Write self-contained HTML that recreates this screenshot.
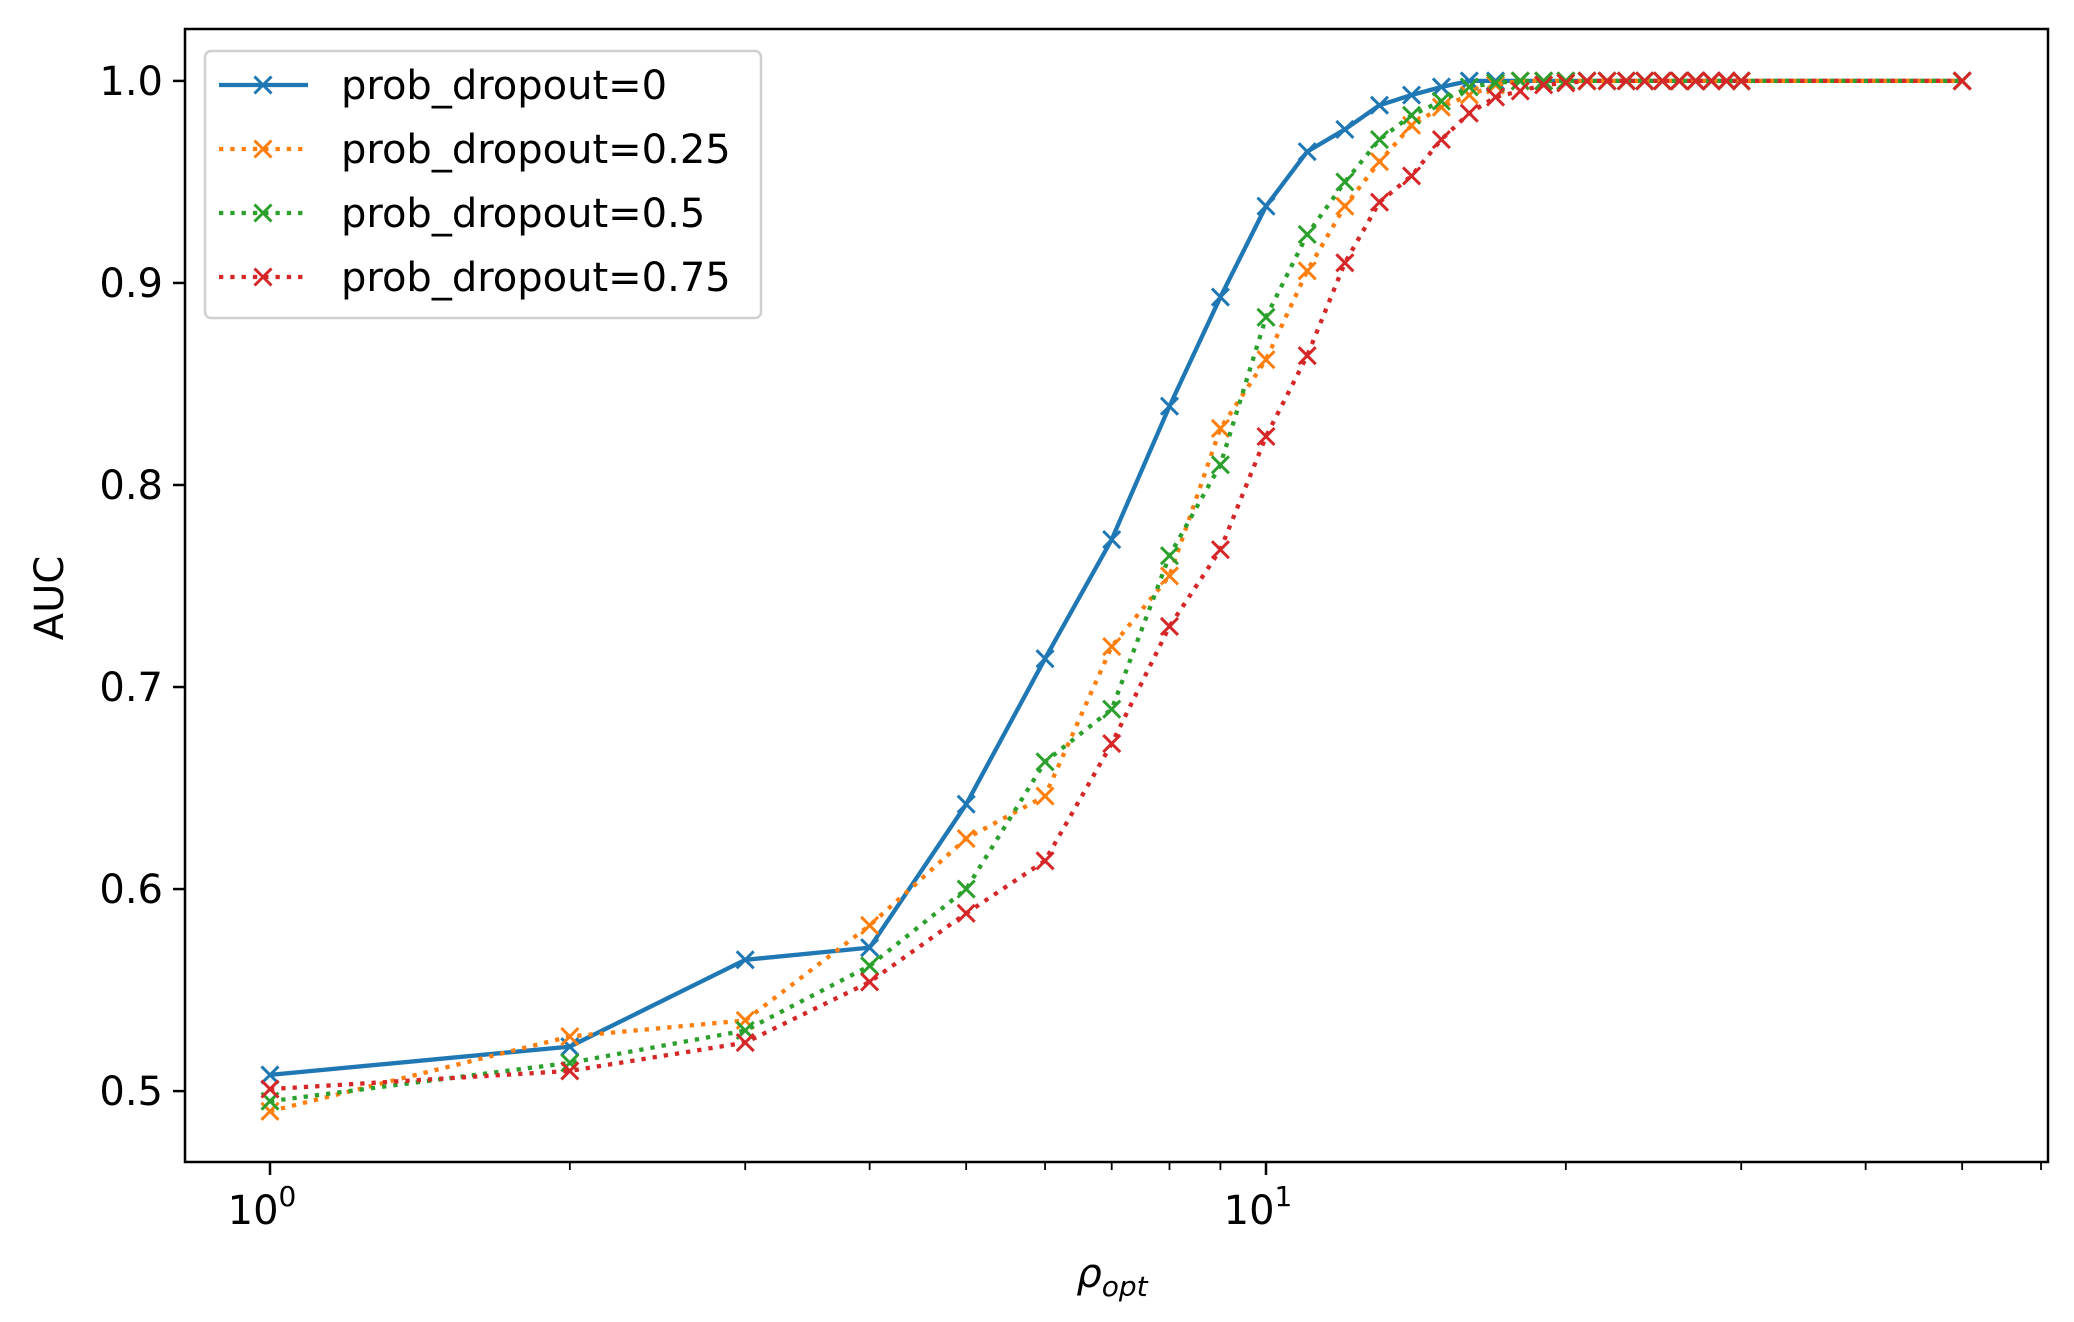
<!DOCTYPE html>
<html><head><meta charset="utf-8"><style>
html,body{margin:0;padding:0;background:#fff;}
svg{display:block;font-family:"DejaVu Sans","Liberation Sans",sans-serif;}
</style></head><body>
<svg id="chart" width="2074" height="1322" viewBox="0 0 2074 1322"></svg>
<script>
const xValues = [1,2,3,4,5,6,7,8,9,10,11,12,13,14,15,16,17,18,19,20,21,22,23,24,25,26,27,28,29,30,50];
const seriesNames = ["prob_dropout=0","prob_dropout=0.25","prob_dropout=0.5","prob_dropout=0.75"];
const blueValues = [0.508,0.522,0.565,0.571,0.642,0.714,0.773,0.839,0.893,0.938,0.965,0.976,0.988,0.993,0.997,1,1,1,1,1,1,1,1,1,1,1,1,1,1,1,1];
const orangeValues = [0.490,0.527,0.535,0.582,0.625,0.646,0.720,0.755,0.828,0.862,0.906,0.938,0.960,0.978,0.987,0.993,0.998,1,1,1,1,1,1,1,1,1,1,1,1,1,1];
const greenValues = [0.495,0.514,0.530,0.562,0.600,0.663,0.689,0.765,0.810,0.883,0.924,0.950,0.971,0.983,0.990,0.997,0.999,1,1,1,1,1,1,1,1,1,1,1,1,1,1];
const redValues = [0.501,0.510,0.524,0.554,0.588,0.614,0.672,0.730,0.768,0.824,0.864,0.910,0.940,0.953,0.971,0.984,0.992,0.995,0.998,0.999,1,1,1,1,1,1,1,1,1,1,1];
const yTicks = [0.5,0.6,0.7,0.8,0.9,1.0];
const yTickLabels = ["0.5","0.6","0.7","0.8","0.9","1.0"];
const xMajorTicks = [1,10];
const xMinorTicks = [2,3,4,5,6,7,8,9,20,30,40,50,60];

const NS="http://www.w3.org/2000/svg";
const svg=document.getElementById('chart');
const L=185,R=2048,T=29,B=1162;
const X0=270,DEC=996;
const ymin=0.4649,ymax=1.0257;
function X(v){return X0+Math.log10(v)*DEC;}
function Y(v){return B-(v-ymin)/(ymax-ymin)*(B-T);}
function mk(tag,attrs,parent){const e=document.createElementNS(NS,tag);for(const k in attrs)e.setAttribute(k,attrs[k]);(parent||svg).appendChild(e);return e;}

const defs=mk('defs',{});const cp=mk('clipPath',{id:'clip'},defs);mk('rect',{x:L,y:T-12,width:R-L,height:B-T+24},cp);

yTicks.forEach((v,i)=>{
  const t=mk('line',{x1:L-12,x2:L,y1:Y(v),y2:Y(v),stroke:'#000','stroke-width':2.5});
  
  
  const tx=mk('text',{x:L-22,y:Y(v)+14,'text-anchor':'end','font-size':40});
  tx.textContent=yTickLabels[i];
  
  
});
xMajorTicks.forEach(v=>{
  const t=mk('line',{x1:X(v),x2:X(v),y1:B,y2:B+13,stroke:'#000','stroke-width':2.5});
  
  
  const tx=mk('text',{x:X(v)-8,y:B+62,'text-anchor':'middle','font-size':40});
  tx.textContent='10';
  const sup=mk('tspan',{dy:-18,'font-size':28},tx);
  sup.textContent=String(Math.round(Math.log10(v)));
  
  
});
xMinorTicks.forEach(v=>{
  if(X(v)>R+1)return;
  const t=mk('line',{x1:X(v),x2:X(v),y1:B,y2:B+8,stroke:'#000','stroke-width':1.8});
  
  
});

const colors=['#1f77b4','#ff7f0e','#2ca02c','#d62728'];
const allSeries=[blueValues,orangeValues,greenValues,redValues];
const g=mk('g',{'clip-path':'url(#clip)'});
function cross(parent,cx,cy,c){
  const s=8.5;
  mk('path',{d:`M${cx-s},${cy-s}L${cx+s},${cy+s}M${cx-s},${cy+s}L${cx+s},${cy-s}`,stroke:c,'stroke-width':3,fill:'none'},parent);
}
allSeries.forEach((vals,si)=>{
  const sg=mk('g',{},g);
  
  
  const d=vals.map((v,i)=>(i?'L':'M')+X(xValues[i]).toFixed(1)+','+Y(v).toFixed(1)).join('');
  const p=mk('path',{d:d,fill:'none',stroke:colors[si],'stroke-width':4.3,'stroke-dasharray':si?'4.3,7':'none'},sg);
  
  
  vals.forEach((v,i)=>cross(sg,X(xValues[i]),Y(v),colors[si]));
});

const fr=mk('rect',{x:L,y:T,width:R-L,height:B-T,fill:'none',stroke:'#000','stroke-width':2.5});



const lg=mk('g',{});


mk('rect',{x:205,y:51,width:556,height:267,rx:6,fill:'#fff','fill-opacity':0.8,stroke:'#d0d0d0','stroke-width':2.5},lg);
const rowsY=[85,149,213,277];
seriesNames.forEach((n,i)=>{
  const e=mk('g',{},lg);
  
  
  mk('line',{x1:219,x2:308,y1:rowsY[i],y2:rowsY[i],stroke:colors[i],'stroke-width':4.3,'stroke-dasharray':i?'4.3,7':'none'},e);
  cross(e,263,rowsY[i],colors[i]);
  const t=mk('text',{x:341,y:rowsY[i]+14,'font-size':40},e);
  t.textContent=n;
});

const yl=mk('text',{x:0,y:0,'font-size':40,'text-anchor':'middle',transform:'translate(63,598) rotate(-90)'});
yl.textContent='AUC';


const xl=mk('text',{x:1112,y:1287,'font-size':40,'text-anchor':'middle','font-style':'italic'});
xl.textContent='ρ';
const sub=mk('tspan',{dy:9,'font-size':28},xl);sub.textContent='opt';


</script>
</body></html>
